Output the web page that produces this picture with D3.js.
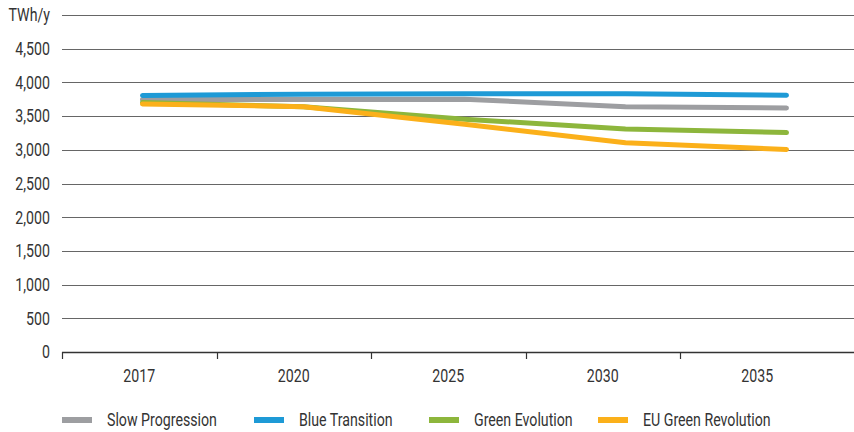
<!DOCTYPE html>
<html>
<head>
<meta charset="utf-8">
<script src="https://cdn.jsdelivr.net/npm/d3@7"></script>
<style>
  html, body { margin: 0; padding: 0; background: #fff; }
  svg { display: block; font-family: Roboto, "Noto Sans", sans-serif; }
  text { fill: #333; }
</style>
</head>
<body>
<svg id="chart" width="854" height="432"></svg>
<script>
// Electricity demand per scenario, TWh per year
const years = ["2017", "2020", "2025", "2030", "2035"];
const slowProgression   = [3745, 3745, 3750, 3640, 3620];
const blueTransition    = [3805, 3825, 3830, 3830, 3810];
const greenEvolution    = [3700, 3640, 3455, 3310, 3255];
const euGreenRevolution = [3680, 3640, 3380, 3105, 3005];

const seriesNames  = ["Slow Progression", "Blue Transition", "Green Evolution", "EU Green Revolution"];
const seriesColors = ["#9d9ea1", "#1e9ad6", "#8db63c", "#fbb01a"];
const yTicks = [0, 500, 1000, 1500, 2000, 2500, 3000, 3500, 4000, 4500];
const unitLabel = "TWh/y";

const series = [slowProgression, blueTransition, greenEvolution, euGreenRevolution]
  .map((values, i) => ({ name: seriesNames[i], color: seriesColors[i], values }));

const svg = d3.select("#chart");
const plotLeft = 62, plotRight = 854, plotTop = 15, plotBottom = 352;
const fontSize = 18;

// condensed lettering: measure the regular face and squeeze it horizontally
const probe = svg.append("text").attr("font-size", fontSize).text("Slow Progression");
const squeeze = 110 / probe.node().getComputedTextLength();
probe.remove();
function label(g, x, yPos, anchor, str) {
  return g.append("text")
    .attr("transform", `translate(${x},${yPos}) scale(${squeeze},1)`)
    .attr("font-size", fontSize)
    .attr("text-anchor", anchor)
    .attr("dy", "0.35em")
    .text(str);
}

const y = d3.scaleLinear().domain([0, 5000]).range([plotBottom, plotTop]);
// category axis bands and the slightly wider bands the lines are placed on
const xAxisBand = d3.scaleBand().domain(years).range([plotLeft, plotLeft + 5 * 154.5]);
const xLine = d3.scaleBand().domain(years).range([plotLeft, plotLeft + 5 * 161]);

// horizontal gridlines
svg.append("g").selectAll("line")
  .data(yTicks.concat([5000]))
  .join("line")
  .attr("x1", plotLeft).attr("x2", plotRight)
  .attr("y1", d => Math.round(y(d)) + 0.5).attr("y2", d => Math.round(y(d)) + 0.5)
  .attr("stroke", d => d === 0 ? "#333" : "#666")
  .attr("stroke-width", d => d === 0 ? 1.5 : 1.1);

// y labels
const yLab = svg.append("g");
yTicks.forEach(d => label(yLab, 50, y(d), "end", d3.format(",")(d)));
label(yLab, 50, y(5000), "end", unitLabel);

// x-axis ticks and labels
svg.append("g").selectAll("line")
  .data(years)
  .join("line")
  .attr("x1", d => Math.round(xAxisBand(d)) + 0.5).attr("x2", d => Math.round(xAxisBand(d)) + 0.5)
  .attr("y1", plotBottom).attr("y2", plotBottom + 7)
  .attr("stroke", "#333").attr("stroke-width", 1.2);
const xLab = svg.append("g");
years.forEach(d => label(xLab, xAxisBand(d) + xAxisBand.bandwidth() / 2, 376, "middle", d));

// scenario lines
const line = d3.line()
  .x((d, i) => xLine(years[i]) + xLine.bandwidth() / 2)
  .y(d => y(d));
svg.append("g").selectAll("path")
  .data(series)
  .join("path")
  .attr("d", d => line(d.values))
  .attr("fill", "none")
  .attr("stroke", d => d.color)
  .attr("stroke-width", 5)
  .attr("stroke-linecap", "round")
  .attr("stroke-linejoin", "round");

// legend
const legendX = [62, 254, 429, 598];
const legend = svg.append("g");
series.forEach((s, i) => {
  legend.append("rect")
    .attr("x", legendX[i]).attr("y", 417).attr("width", 30).attr("height", 6)
    .attr("fill", s.color);
  label(legend, legendX[i] + 45, 420, "start", s.name);
});
</script>
</body>
</html>
